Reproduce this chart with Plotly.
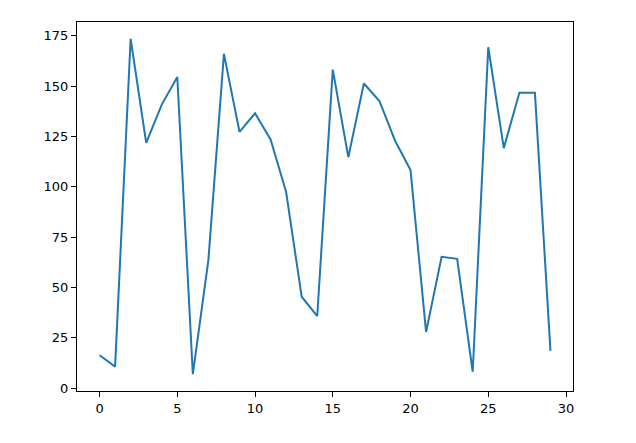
import plotly.graph_objects as go

x_vals = list(range(30))
y_vals = [16.3, 10.7, 173.5, 121.8, 140.8, 154.5, 6.9, 63.6, 166.0, 127.3,
          136.5, 123.5, 97.4, 45.4, 35.8, 158.2, 114.7, 151.3, 142.6, 123.0,
          108.3, 27.9, 65.2, 64.2, 8.1, 169.3, 119.2, 146.7, 146.7, 18.5]

x_ticks = [0, 5, 10, 15, 20, 25, 30]
y_ticks = [0, 25, 50, 75, 100, 125, 150, 175]

fig = go.Figure()
fig.add_trace(go.Scatter(x=x_vals, y=y_vals, mode="lines",
                         line=dict(color="#1f77b4", width=2)))

pad_x = 0.05 * (max(x_vals) - min(x_vals))
pad_y = 0.05 * (max(y_vals) - min(y_vals))

axis_common = dict(showgrid=False, zeroline=False, showline=True, linecolor="black",
                   linewidth=1, mirror=True, ticks="outside", ticklen=5, tickwidth=1,
                   tickcolor="black", tickfont=dict(family="DejaVu Sans", size=13, color="black"))

fig.update_layout(
    width=628, height=435,
    margin=dict(l=69, r=63, t=14, b=52),
    paper_bgcolor="white", plot_bgcolor="white",
    showlegend=False,
    xaxis=dict(range=[min(x_vals) - pad_x, max(x_vals) + pad_x], tickvals=x_ticks, **axis_common),
    yaxis=dict(range=[min(y_vals) - pad_y, max(y_vals) + pad_y], tickvals=y_ticks, **axis_common),
)
fig.write_html("out.html")
